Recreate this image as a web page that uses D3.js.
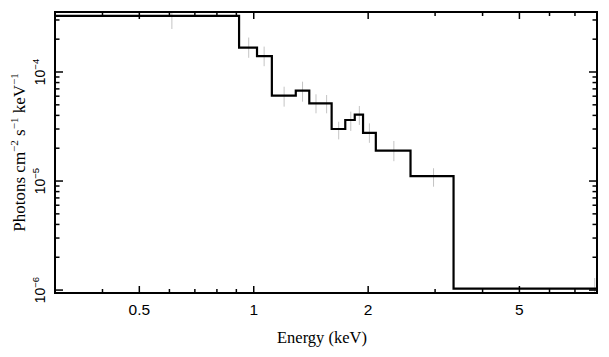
<!DOCTYPE html>
<html>
<head>
<meta charset="utf-8">
<script src="https://cdn.jsdelivr.net/npm/d3@7/dist/d3.min.js"></script>
<style>
  html, body { margin: 0; padding: 0; background: #fff; }
  svg { display: block; }
</style>
</head>
<body>
<svg id="chart" width="609" height="357"></svg>
<script>
// ---- Data ----
const binEdges = [0.3, 0.915, 1.02, 1.116, 1.29, 1.40, 1.603, 1.741, 1.844, 1.939, 2.095, 2.585, 3.355, 8.0];
const modelValues = [3.27e-4, 1.67e-4, 1.40e-4, 6.06e-5, 6.74e-5, 5.16e-5, 3.0e-5, 3.63e-5, 4.06e-5, 2.77e-5, 1.90e-5, 1.11e-5, 1.03e-6];

const errEnergy = [0.609, 0.97, 1.065, 1.202, 1.344, 1.458, 1.555, 1.673, 1.80, 1.896, 2.015, 2.337, 2.972, 7.89];
const errLow  = [2.48e-4, 1.35e-4, 1.13e-4, 4.81e-5, 5.34e-5, 4.18e-5, 4.18e-5, 2.41e-5, 2.88e-5, 3.27e-5, 2.24e-5, 1.52e-5, 8.87e-6, 8.0e-7];
const errHigh = [4.3e-4, 2.07e-4, 1.71e-4, 7.33e-5, 8.15e-5, 6.24e-5, 6.15e-5, 3.50e-5, 4.33e-5, 4.88e-5, 3.38e-5, 2.33e-5, 1.31e-5, 1.29e-6];

const xMajorTicks = [0.5, 1, 2, 5];
const xTickLabels = ["0.5", "1", "2", "5"];
const xMinorTicks = [0.4, 0.6, 0.7, 0.8, 0.9, 3, 4, 6, 7, 8];
const yMajorTicks = [1e-6, 1e-5, 1e-4];
const yTickExponents = ["−6", "−5", "−4"];
const yMinorTicks = [2e-6,3e-6,4e-6,5e-6,6e-6,7e-6,8e-6,9e-6,2e-5,3e-5,4e-5,5e-5,6e-5,7e-5,8e-5,9e-5,2e-4,3e-4];

const xTitle = "Energy (keV)";

// ---- Layout ----
const L = 55, R = 597, T = 12, B = 293;
const svg = d3.select("#chart");
svg.append("rect").attr("width", 609).attr("height", 357).attr("fill", "#fff");

const x = d3.scaleLog().domain([0.3, 8]).range([L, R]);
const y = d3.scaleLog().domain([9.4e-7, 3.55e-4]).range([B, T]);

svg.append("clipPath").attr("id", "clip")
  .append("rect").attr("x", L).attr("y", T).attr("width", R - L).attr("height", B - T);

const plot = svg.append("g").attr("clip-path", "url(#clip)");

// error bars (light grey)
plot.selectAll("line.err").data(errEnergy).join("line")
  .attr("class", "err")
  .attr("x1", d => x(d)).attr("x2", d => x(d))
  .attr("y1", (d, i) => y(errLow[i])).attr("y2", (d, i) => y(errHigh[i]))
  .attr("stroke", "#c4c4c4").attr("stroke-width", 1);

// step model
const stepPts = modelValues.map((v, i) => [binEdges[i], v]);
stepPts.push([binEdges[binEdges.length - 1], modelValues[modelValues.length - 1]]);
const line = d3.line().x(d => x(d[0])).y(d => y(d[1])).curve(d3.curveStepAfter);
plot.append("path").datum(stepPts).attr("d", line)
  .attr("fill", "none").attr("stroke", "#000").attr("stroke-width", 2.2)
  .attr("stroke-linejoin", "miter");

// ---- Axes (ticks inward on all four sides) ----
const axG = svg.append("g");
function xTicks(vals, len) {
  axG.selectAll(null).data(vals).join("line")
    .attr("x1", d => x(d)).attr("x2", d => x(d)).attr("y1", B).attr("y2", B - len)
    .attr("stroke", "#000").attr("stroke-width", 1.5);
  axG.selectAll(null).data(vals).join("line")
    .attr("x1", d => x(d)).attr("x2", d => x(d)).attr("y1", T).attr("y2", T + len)
    .attr("stroke", "#000").attr("stroke-width", 1.5);
}
function yTicks(vals, len) {
  axG.selectAll(null).data(vals).join("line")
    .attr("x1", L).attr("x2", L + len).attr("y1", d => y(d)).attr("y2", d => y(d))
    .attr("stroke", "#000").attr("stroke-width", 1.5);
  axG.selectAll(null).data(vals).join("line")
    .attr("x1", R).attr("x2", R - len).attr("y1", d => y(d)).attr("y2", d => y(d))
    .attr("stroke", "#000").attr("stroke-width", 1.5);
}
xTicks(xMajorTicks, 7);
xTicks(xMinorTicks, 4);
yTicks(yMajorTicks, 8);
yTicks(yMinorTicks, 4.5);

axG.append("rect").attr("x", L).attr("y", T).attr("width", R - L).attr("height", B - T)
  .attr("fill", "none").attr("stroke", "#000").attr("stroke-width", 2);

// x tick labels
svg.selectAll("text.xl").data(xMajorTicks).join("text")
  .attr("class", "xl")
  .attr("x", d => x(d)).attr("y", 314.5)
  .attr("text-anchor", "middle")
  .attr("font-family", "Liberation Sans, Arial, sans-serif")
  .attr("font-size", 15.5)
  .attr("fill", "#000")
  .text((d, i) => xTickLabels[i]);

// y tick labels (rotated)
const yl = svg.selectAll("text.yl").data(yMajorTicks).join("text")
  .attr("class", "yl")
  .attr("transform", d => `translate(45,${y(d)}) rotate(-90)`)
  .attr("text-anchor", "middle")
  .attr("font-family", "Liberation Sans, Arial, sans-serif")
  .attr("font-size", 14)
  .attr("fill", "#000");
yl.append("tspan").text("10");
yl.append("tspan").attr("font-size", 9.5).attr("dy", -6).text((d, i) => yTickExponents[i]);

// x title
svg.append("text")
  .attr("x", 322).attr("y", 343)
  .attr("text-anchor", "middle")
  .attr("font-family", "Liberation Serif, Times New Roman, serif")
  .attr("font-size", 16.5)
  .attr("fill", "#000")
  .text(xTitle);

// y title
const yt = svg.append("text")
  .attr("transform", `translate(25,${(T + B) / 2}) rotate(-90)`)
  .attr("text-anchor", "middle")
  .attr("font-family", "Liberation Serif, Times New Roman, serif")
  .attr("font-size", 17)
  .attr("fill", "#000");
yt.append("tspan").text("Photons cm");
yt.append("tspan").attr("font-size", 11).attr("dy", -7).text("−2");
yt.append("tspan").attr("dy", 7).text(" s");
yt.append("tspan").attr("font-size", 11).attr("dy", -7).text("−1");
yt.append("tspan").attr("dy", 7).text(" keV");
yt.append("tspan").attr("font-size", 11).attr("dy", -7).text("−1");
</script>
</body>
</html>
